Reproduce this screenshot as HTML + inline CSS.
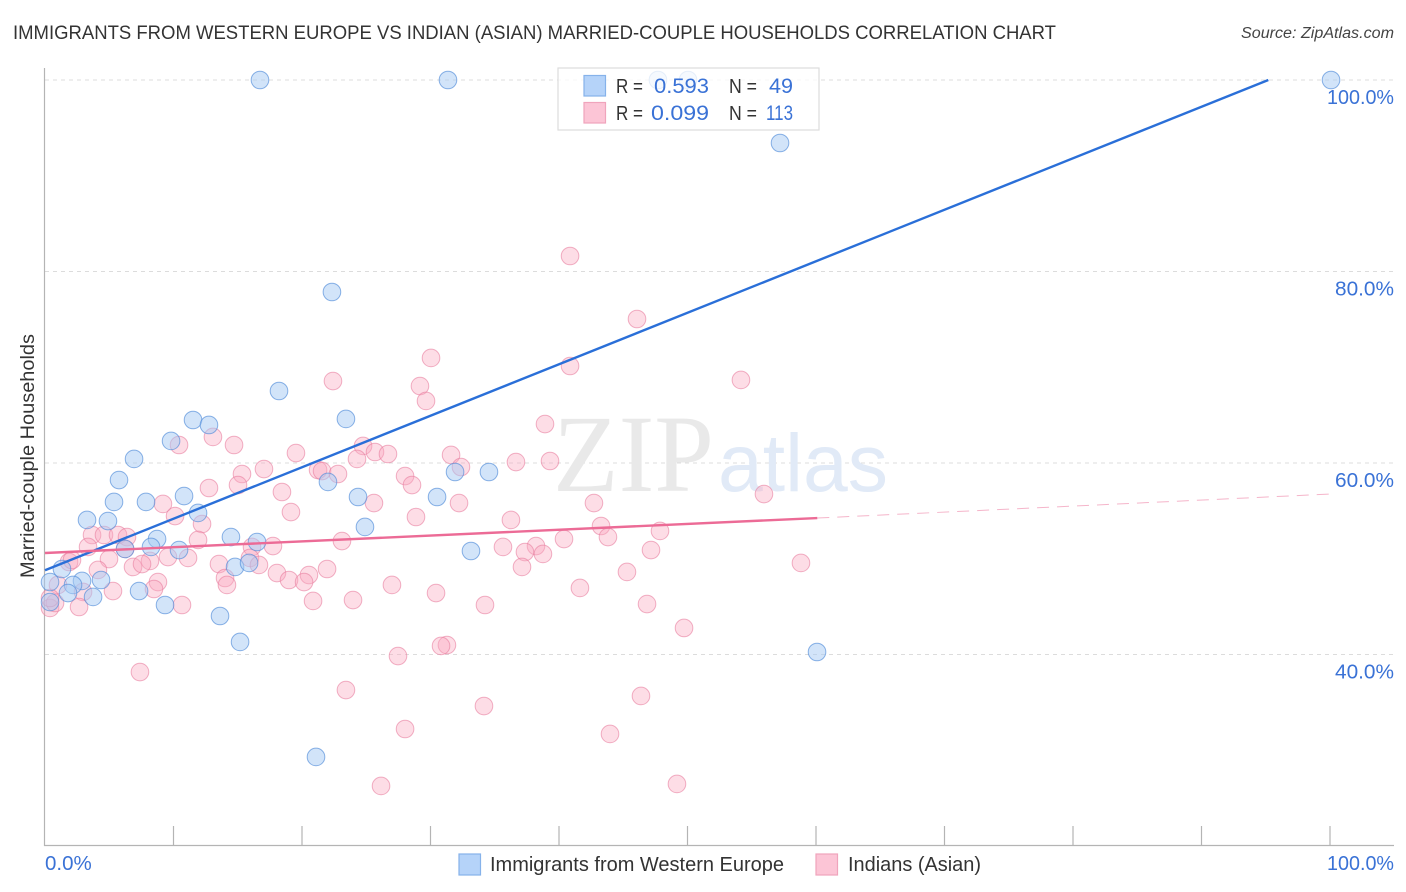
<!DOCTYPE html>
<html lang="en">
<head>
<meta charset="utf-8">
<title>Immigrants from Western Europe vs Indian (Asian) Married-couple Households Correlation Chart</title>
<style>
html,body{margin:0;padding:0;background:#fff;width:1406px;height:892px;overflow:hidden}
svg{display:block;font-family:"Liberation Sans",sans-serif}
</style>
</head>
<body>
<svg id="chart" width="1406" height="892" viewBox="0 0 1406 892" xmlns="http://www.w3.org/2000/svg">
  <text x="13" y="39" font-size="19.5" fill="#333" textLength="1043" lengthAdjust="spacingAndGlyphs">IMMIGRANTS FROM WESTERN EUROPE VS INDIAN (ASIAN) MARRIED-COUPLE HOUSEHOLDS CORRELATION CHART</text>
  <text x="1241" y="38" font-size="15.5" font-style="italic" fill="#444" textLength="153" lengthAdjust="spacingAndGlyphs">Source: ZipAtlas.com</text>

  <g id="grid"></g>

  <text x="553" y="491" font-family="'Liberation Serif',serif" font-size="110" fill="#e9e9e9" textLength="161" lengthAdjust="spacingAndGlyphs">ZIP</text>
  <text x="718" y="491" font-size="82" fill="#e1eaf7" textLength="170" lengthAdjust="spacingAndGlyphs">atlas</text>

  <g id="axes"></g>
  <g id="pink-points"></g>
  <g id="blue-points"></g>
  <g id="trends"></g>
  <g id="ticks"></g>

  <text transform="translate(34,456) rotate(-90)" font-size="19.5" fill="#333" text-anchor="middle" textLength="244" lengthAdjust="spacingAndGlyphs">Married-couple Households</text>

  <g>
    <rect x="558" y="68" width="261" height="62" fill="#fff" fill-opacity="0.78" stroke="#ddd" stroke-width="1.2"/>
    <rect x="584" y="75.5" width="21.5" height="20.5" fill="#b5d3f9" stroke="#86b2ea" stroke-width="1.2"/>
    <rect x="584" y="102.5" width="21.5" height="20.5" fill="#fcc5d6" stroke="#f0a4bc" stroke-width="1.2"/>
    <text x="616" y="93" font-size="20" fill="#333" textLength="27" lengthAdjust="spacingAndGlyphs">R =</text>
    <text x="654" y="93" font-size="21" fill="#3a72d6" textLength="55" lengthAdjust="spacingAndGlyphs">0.593</text>
    <text x="729" y="93" font-size="20" fill="#333" textLength="28" lengthAdjust="spacingAndGlyphs">N =</text>
    <text x="769" y="93" font-size="21" fill="#3a72d6" textLength="24" lengthAdjust="spacingAndGlyphs">49</text>
    <text x="616" y="120" font-size="20" fill="#333" textLength="27" lengthAdjust="spacingAndGlyphs">R =</text>
    <text x="651" y="120" font-size="21" fill="#3a72d6" textLength="58" lengthAdjust="spacingAndGlyphs">0.099</text>
    <text x="729" y="120" font-size="20" fill="#333" textLength="28" lengthAdjust="spacingAndGlyphs">N =</text>
    <text x="766" y="120" font-size="21" fill="#3a72d6" textLength="27" lengthAdjust="spacingAndGlyphs">113</text>
  </g>

  <g>
    <rect x="459" y="854" width="21.5" height="21" fill="#b5d3f9" stroke="#86b2ea" stroke-width="1.2"/>
    <text x="490" y="871" font-size="20" fill="#333" textLength="294" lengthAdjust="spacingAndGlyphs">Immigrants from Western Europe</text>
    <rect x="816" y="854" width="21.5" height="21" fill="#fcc5d6" stroke="#f0a4bc" stroke-width="1.2"/>
    <text x="848" y="871" font-size="20" fill="#333" textLength="133" lengthAdjust="spacingAndGlyphs">Indians (Asian)</text>
  </g>
</svg>
<script>
const blueX = [16.73,31.36,47.70,50.04,100.08,57.20,22.33,18.21,23.42,11.52,12.76,9.81,6.93,5.76,5.37,7.86,10.82,24.36,30.51,31.91,34.55,22.02,3.27,4.90,11.91,24.90,14.47,16.50,8.72,8.25,6.23,10.43,33.15,14.79,15.88,4.36,7.32,3.74,9.34,13.62,15.18,60.08,21.09,1.32,2.88,2.18,0.39,0.39,1.79];
const blueY = [100,100,100,100,100,93.42,77.86,67.52,64.60,64.49,63.97,62.30,60.42,58.22,55.93,55.93,56.55,56.45,56.45,59.06,59.06,58.02,54.05,53.94,54.78,53.32,52.27,51.75,52.06,51.23,51.02,50.91,50.81,49.14,49.56,47.78,46.63,46.01,45.17,44.02,41.31,40.26,29.30,48.93,47.68,47.26,47.57,45.48,46.42];
const pinkX = [40.86,46.07,30.04,40.86,54.16,22.41,29.18,29.65,38.91,13.07,10.43,14.71,24.75,19.53,25.68,26.69,31.60,24.28,39.30,36.65,32.37,15.33,17.04,21.25,21.56,22.80,28.02,15.02,12.76,28.56,18.44,55.95,9.18,25.60,32.22,42.72,19.14,10.12,28.87,36.26,12.22,3.66,4.59,5.68,6.38,11.91,23.11,43.27,40.39,43.81,47.86,3.35,35.64,38.21,47.16,4.98,6.23,9.57,8.17,11.13,38.75,37.35,16.11,17.74,15.95,13.54,16.65,1.87,2.10,4.12,6.85,7.55,21.95,37.12,18.05,45.29,58.83,14.01,18.99,20.54,20.16,8.79,14.16,27.00,41.63,30.43,5.29,8.48,2.96,20.86,23.97,10.66,34.24,46.85,2.65,49.73,31.28,30.82,27.47,7.39,23.42,46.38,34.16,28.02,43.97,26.15,49.18,0.39,0.78,1.01,0.39];
const pinkY = [81.62,75.04,70.97,70.13,68.67,68.56,68.04,66.48,64.07,62.72,61.88,61.88,61.78,61.04,61.15,60.94,60.84,60.42,60.21,60.10,59.58,58.85,59.37,59.27,59.16,58.85,58.64,57.70,57.39,57.70,56.97,56.76,55.72,55.82,55.82,55.82,54.88,54.46,54.36,54.05,53.63,52.48,52.48,52.48,52.27,51.96,51.85,53.42,52.06,52.27,52.90,51.23,51.23,51.33,50.91,49.97,51.02,50.18,49.77,50.08,50.50,50.70,51.23,51.33,50.08,49.45,49.35,49.66,49.87,48.83,49.14,49.45,48.93,49.14,48.51,48.62,49.56,47.99,47.78,48.30,47.57,47.57,47.26,47.26,46.95,46.42,46.63,46.84,46.53,45.59,45.69,45.17,45.17,45.27,44.96,42.77,40.99,40.89,39.84,38.17,36.29,35.67,34.62,32.22,31.70,26.27,26.48,44.86,45.38,47.26,45.90];
const blueTrendX = [0,95.2];
const blueTrendY = [48.8,100];
const pinkTrendX = [0,60.1];
const pinkTrendY = [50.6,54.25];
const pinkForecastX = [60.1,100];
const pinkForecastY = [54.25,56.76];
const yTickValues = [40,60,80,100];
const yTickLabels = ["40.0%","60.0%","80.0%","100.0%"];
const xTickValues = [0,10,20,30,40,50,60,70,80,90,100];
const xEdgeLabels = ["0.0%","100.0%"];

const NS = "http://www.w3.org/2000/svg";
function xPos(v){ return 45 + v * 12.85; }
function yPos(v){ return 80 + (100 - v) * 9.575; }
function labelWidth(s){ return s.length > 5 ? 67 : 59; }
function make(parentId, tag, attrs){
  const el = document.createElementNS(NS, tag);
  for (const k in attrs) el.setAttribute(k, attrs[k]);
  document.getElementById(parentId).appendChild(el);
  return el;
}

yTickValues.forEach(function(v, i){
  const line = make("grid", "line", {x1:45, x2:1394, y1:yPos(v), y2:yPos(v), stroke:"#dcdcdc", "stroke-width":1, "stroke-dasharray":"4 4"});
  
  
  const label = make("ticks", "text", {x:1394 - labelWidth(yTickLabels[i]), y:yPos(v) + 24, "font-size":20.5, fill:"#3a72d6", textLength:labelWidth(yTickLabels[i]), lengthAdjust:"spacingAndGlyphs"});
  label.textContent = yTickLabels[i];
  
  
});

const yAxis = make("axes", "line", {x1:44.5, x2:44.5, y1:68, y2:846, stroke:"#b4b4b4", "stroke-width":1.2});


const xAxis = make("axes", "line", {x1:44, x2:1394, y1:845.5, y2:845.5, stroke:"#b4b4b4", "stroke-width":1.2});



xTickValues.forEach(function(v){
  if (v === 0) return;
  const tick = make("axes", "line", {x1:xPos(v), x2:xPos(v), y1:826, y2:846, stroke:"#b4b4b4", "stroke-width":1.2});
  
  
});

const xLabelLeft = make("ticks", "text", {x:45, y:870, "font-size":20.5, fill:"#3a72d6"});
xLabelLeft.textContent = xEdgeLabels[0];


const xLabelRight = make("ticks", "text", {x:1394 - labelWidth(xEdgeLabels[1]), y:870, "font-size":20.5, fill:"#3a72d6", textLength:labelWidth(xEdgeLabels[1]), lengthAdjust:"spacingAndGlyphs"});
xLabelRight.textContent = xEdgeLabels[1];



pinkX.forEach(function(v, i){
  const c = make("pink-points", "circle", {cx:xPos(v), cy:yPos(pinkY[i]), r:8.8, fill:"#f9a9c1", "fill-opacity":0.4, stroke:"#e77d9f", "stroke-opacity":0.6, "stroke-width":1});
  
  
});
blueX.forEach(function(v, i){
  const c = make("blue-points", "circle", {cx:xPos(v), cy:yPos(blueY[i]), r:8.8, fill:"#a6c9f4", "fill-opacity":0.5, stroke:"#4f8ad8", "stroke-opacity":0.65, "stroke-width":1});
  
  
});

const blueLine = make("trends", "line", {x1:xPos(blueTrendX[0]), y1:yPos(blueTrendY[0]), x2:xPos(blueTrendX[1]), y2:yPos(blueTrendY[1]), stroke:"#2a6fd8", "stroke-width":2.4});


const pinkLine = make("trends", "line", {x1:xPos(pinkTrendX[0]), y1:yPos(pinkTrendY[0]), x2:xPos(pinkTrendX[1]), y2:yPos(pinkTrendY[1]), stroke:"#ec6b96", "stroke-width":2.4});


const pinkDash = make("trends", "line", {x1:xPos(pinkForecastX[0]), y1:yPos(pinkForecastY[0]), x2:xPos(pinkForecastX[1]), y2:yPos(pinkForecastY[1]), stroke:"#ec6b96", "stroke-width":1, "stroke-opacity":0.5, "stroke-dasharray":"12 8"});


</script>
</body>
</html>
